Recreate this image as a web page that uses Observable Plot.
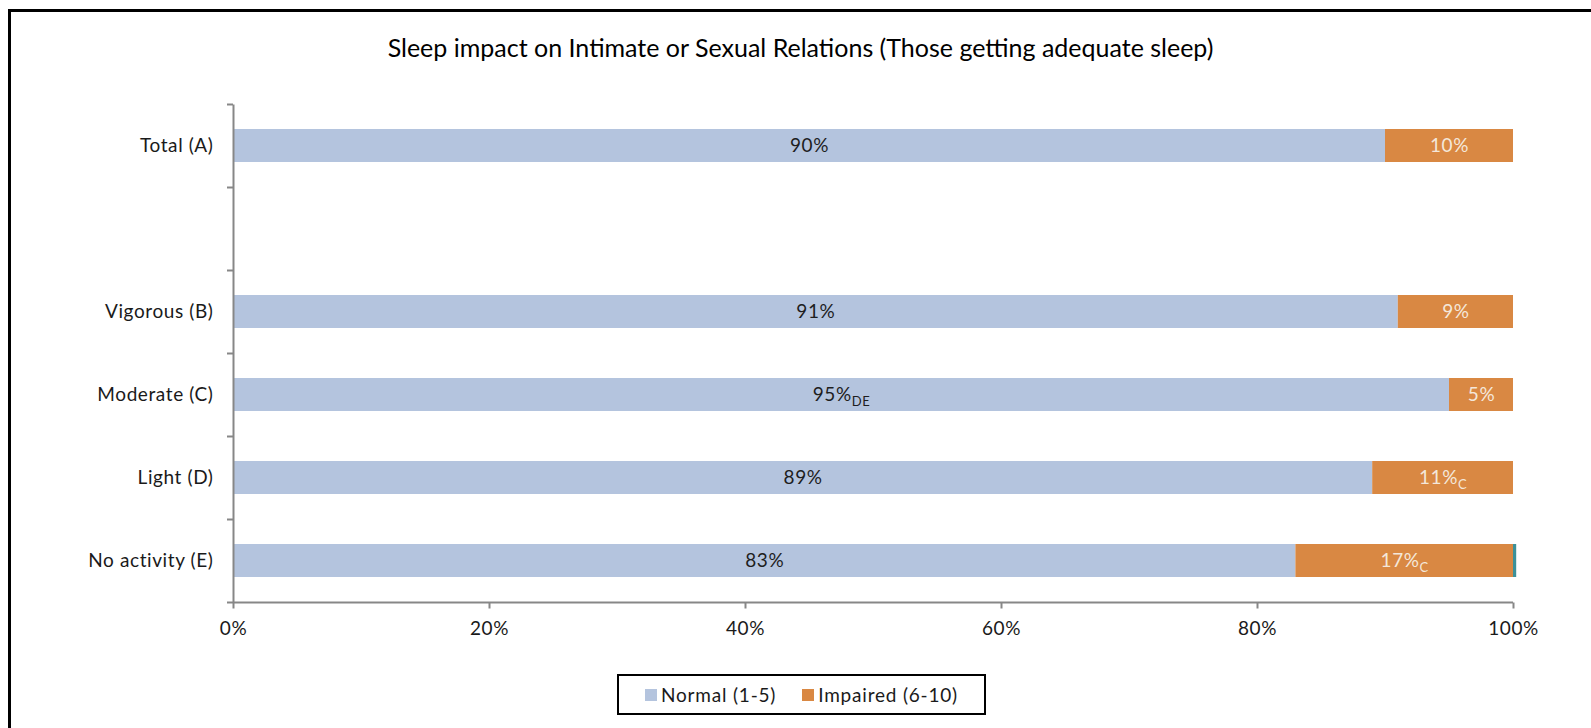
<!DOCTYPE html>
<html><head><meta charset="utf-8">
<script src="https://cdn.jsdelivr.net/npm/d3@7"></script>
<script src="https://cdn.jsdelivr.net/npm/@observablehq/plot@0.6"></script>
<style>
html{overflow:hidden;}
body{margin:0;width:1591px;height:728px;overflow:hidden;position:relative;background:#fff;font-family:Lato,sans-serif;}
#frameTop{position:absolute;left:8px;top:9px;width:1583px;height:3px;background:#000;}
#frameLeft{position:absolute;left:8px;top:9px;width:3px;height:719px;background:#000;}
#title{position:absolute;left:0;width:1601px;top:32px;text-align:center;font-size:25px;color:#000;}
#chart{position:absolute;left:0;top:80px;}
#legend{position:absolute;left:617px;top:674px;width:365px;height:37px;border:2px solid #000;display:flex;align-items:center;justify-content:center;font-size:19px;letter-spacing:0.8px;color:#1a1a1a;gap:26px;}
#legend .item{display:flex;align-items:center;}
#legend .sw{width:12px;height:12px;margin-right:4px;display:inline-block;}
</style></head>
<body>
<div id="frameTop"></div>
<div id="frameLeft"></div>
<div id="title">Sleep impact on Intimate or Sexual Relations (Those getting adequate sleep)</div>
<div id="chart"></div>
<div id="legend"></div>
<script>
const categories = ["Total (A)", " ", "Vigorous (B)", "Moderate (C)", "Light (D)", "No activity (E)"];
const rowCategories = ["Total (A)", "Vigorous (B)", "Moderate (C)", "Light (D)", "No activity (E)"];
const seriesNames = ["Normal (1-5)", "Impaired (6-10)", "Other"];
const normal = [90, 91, 95, 89, 83];
const impaired = [10, 9, 5, 11, 17];
const other = [0, 0, 0, 0, 0.25];
const normalSub = ["", "", "DE", "", ""];
const impairedSub = ["", "", "", "C", "C"];
const xTicks = [0, 20, 40, 60, 80, 100];
const colors = ["#B4C4DE", "#D98843", "#3C9199"];
const labelColors = ["#1e1e1e", "#F4E7DA"];

const seriesValues = [normal, impaired, other];
const seriesSubs = [normalSub, impairedSub, null];
const data = [];
rowCategories.forEach((cat, i) => {
  let start = 0;
  seriesValues.forEach((vals, s) => {
    const v = vals[i];
    if (v > 0) {
      data.push({cat, series: seriesNames[s], x1: start, x2: start + v, mid: start + v / 2,
        label: seriesSubs[s] ? `${v}%|${seriesSubs[s][i]}` : ""});
    }
    start += v;
  });
});

const W = 1591, H = 570;
const mTop = 24.5, mBottom = 47.5;
const step = (H - mTop - mBottom) / categories.length;
const plot = Plot.plot({
  width: W, height: H,
  marginLeft: 233, marginRight: 78, marginTop: mTop, marginBottom: mBottom,
  style: {fontFamily: "Lato, sans-serif", fontSize: "19px", letterSpacing: "0.6px", color: "#1a1a1a", background: "transparent", overflow: "visible"},
  x: {domain: [0, 100], label: null},
  y: {domain: categories, paddingInner: 0.6, paddingOuter: 0.3, align: 0.5, label: null},
  color: {domain: seriesNames, range: colors},
  marks: [
    Plot.barX(data, {x1: "x1", x2: "x2", y: "cat", fill: "series"}),
    Plot.text(data.filter(d => d.series === seriesNames[0]), {x: "mid", y: "cat", text: "label", fill: labelColors[0], fontSize: 19}),
    Plot.text(data.filter(d => d.series === seriesNames[1]), {x: "mid", y: "cat", text: "label", fill: labelColors[1], fontSize: 19}),
    Plot.ruleX([0], {stroke: "#878787", strokeWidth: 2}),
    Plot.ruleY([categories[categories.length - 1]], {dy: step / 2, stroke: "#878787", strokeWidth: 2}),
    Plot.axisY({tickSize: 0, tickPadding: 20, fontSize: 19, fill: "#1a1a1a", tickFormat: d => d, label: null}),
    Plot.axisY({tickSize: 6, dy: -step / 2, text: null, stroke: "#878787", strokeWidth: 2, strokeOpacity: 1, label: null}),
    Plot.axisY([categories[categories.length - 1]], {tickSize: 6, dy: step / 2, text: null, stroke: "#878787", strokeWidth: 2, strokeOpacity: 1, label: null}),
    Plot.axisX({ticks: xTicks, tickSize: 6, tickPadding: 12, tickFormat: d => d + "%", fontSize: 19, fill: "#1a1a1a", stroke: "#878787", strokeWidth: 2, strokeOpacity: 1, label: null})
  ]
});
document.getElementById("chart").appendChild(plot);

// render subscripts
plot.querySelectorAll("text").forEach(t => {
  const s = t.textContent;
  if (s.includes("|")) {
    const [main, sub] = s.split("|");
    t.textContent = main;
    if (sub) {
      const ts = document.createElementNS("http://www.w3.org/2000/svg", "tspan");
      ts.setAttribute("font-size", "13");
      ts.setAttribute("dy", "5");
      ts.textContent = sub;
      t.appendChild(ts);
    }
  }
});

const legend = document.getElementById("legend");
seriesNames.slice(0, 2).forEach((name, i) => {
  const item = document.createElement("div");
  item.className = "item";
  item.innerHTML = `<span class="sw" style="background:${colors[i]}"></span><span>${name}</span>`;
  legend.appendChild(item);
});
</script>
</body></html>
